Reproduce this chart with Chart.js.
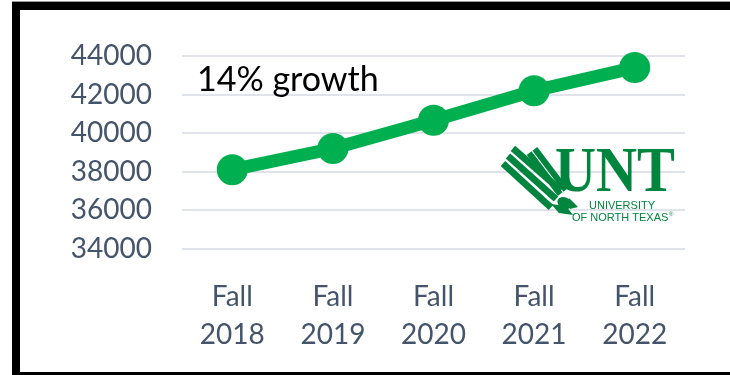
<!DOCTYPE html>
<html>
<head>
<meta charset="utf-8">
<script src="https://cdn.jsdelivr.net/npm/chart.js@4"></script>
<style>
  html, body { margin: 0; padding: 0; background: #fff; overflow: hidden; }
  #frame {
    position: absolute; left: 12px; top: 2px; width: 760px; height: 374px;
    box-sizing: border-box; border: 8px solid #000; border-bottom-width: 4px;
    box-shadow: 0 -1px 0 #999;
  }
  #enrollChart { position: absolute; left: 0; top: 0; }
</style>
</head>
<body>
<div id="frame"></div>
<canvas id="enrollChart" width="730" height="375"></canvas>
<script>
// Fall enrollment, one value per term
const terms = [["Fall", "2018"], ["Fall", "2019"], ["Fall", "2020"], ["Fall", "2021"], ["Fall", "2022"]];
const enrollment = [38100, 39200, 40670, 42200, 43400];
const yMin = 34000;
const yMax = 44000;
const yStep = 2000;
const growthNote = "14% growth";

const green = "#00B050";
const logoGreen = "#00853E";
const axisText = "#44546A";

// Draws the growth note and the UNT logo on top of the chart
const overlay = {
  id: "overlay",
  afterDraw(chart) {
    const c = chart.ctx;
    c.save();

    // growth note
    c.fillStyle = "#000";
    c.font = "34px Lato";
    c.textBaseline = "alphabetic";
    c.textAlign = "left";
    c.fillText(growthNote, 197, 91);

    // eagle feathers: parallel bands offset sideways from a centre line
    c.strokeStyle = logoGreen;
    c.fillStyle = logoGreen;
    c.lineCap = "butt";
    const band = (x0, y0, x1, y1, off, w) => {
      const len = Math.hypot(x1 - x0, y1 - y0);
      const nx = (y1 - y0) / len;
      const ny = -(x1 - x0) / len;
      c.lineWidth = w;
      c.beginPath();
      c.moveTo(x0 + nx * off, y0 + ny * off);
      c.lineTo(x1 + nx * off, y1 + ny * off);
      c.stroke();
    };
    // long wing, three feathers
    [-7.5, 0, 7.5].forEach((o, i) => band(508, 158 - i * 2, 556, 202 - i * 3, o, 6.8));
    // short wing, two feathers
    [-3.6, 3.6].forEach((o) => band(532, 151, 563, 192, o, 6));

    // head and beak
    c.beginPath();
    c.ellipse(565, 203, 8, 5.5, 0.4, 0, Math.PI * 2);
    c.fill();
    c.beginPath();
    c.moveTo(569, 198);
    c.lineTo(578, 207);
    c.lineTo(570, 209);
    c.closePath();
    c.fill();
    c.beginPath();
    c.moveTo(551, 204);
    c.lineTo(566, 206);
    c.lineTo(573, 215);
    c.lineTo(559, 213);
    c.closePath();
    c.fill();

    // UNT letters, squeezed to the logo width
    c.font = "bold 64px 'Liberation Serif'";
    const w = c.measureText("UNT").width;
    c.save();
    c.translate(555, 191);
    c.scale(120 / w, 1);
    c.fillText("UNT", 0, 0);
    c.restore();

    c.font = "11px 'Liberation Sans'";
    c.fillText("UNIVERSITY", 589, 209);
    c.fillText("OF NORTH TEXAS", 572, 221);
    c.font = "6px 'Liberation Sans'";
    c.fillText("®", 669, 216);

    c.restore();
  },
};

const ctx = document.getElementById("enrollChart").getContext("2d");

const enrollChart = new Chart(ctx, {
  type: "line",
  data: {
    labels: terms,
    datasets: [
      {
        data: enrollment,
        borderColor: green,
        backgroundColor: green,
        borderWidth: 13,
        pointRadius: 15.5,
        pointBorderWidth: 0,
        pointBackgroundColor: green,
        tension: 0,
        clip: false,
      },
    ],
  },
  options: {
    responsive: false,
    animation: false,
    devicePixelRatio: 1,
    layout: {
      padding: { top: 56, right: 45, left: 0, bottom: 0 },
    },
    plugins: {
      legend: { display: false },
      tooltip: { enabled: false },
    },
    scales: {
      x: {
        offset: true,
        grid: { display: false },
        border: { display: false },
        ticks: {
          color: axisText,
          font: { family: "Lato", size: 28, lineHeight: 1.375 },
          padding: 21,
          maxRotation: 0,
        },
        afterFit: (scale) => {
          scale.height = 126.3;
        },
      },
      y: {
        min: yMin,
        max: yMax,
        grid: { color: "#e0e3e9", lineWidth: 2, drawTicks: false },
        border: { display: false },
        ticks: {
          stepSize: yStep,
          color: axisText,
          font: { family: "Lato", size: 28 },
          padding: 30,
          callback: (value) => String(value), // plain digits, no separators
        },
        afterFit: (scale) => {
          scale.width = 182;
        },
      },
    },
  },
  plugins: [overlay],
});
</script>
</body>
</html>
